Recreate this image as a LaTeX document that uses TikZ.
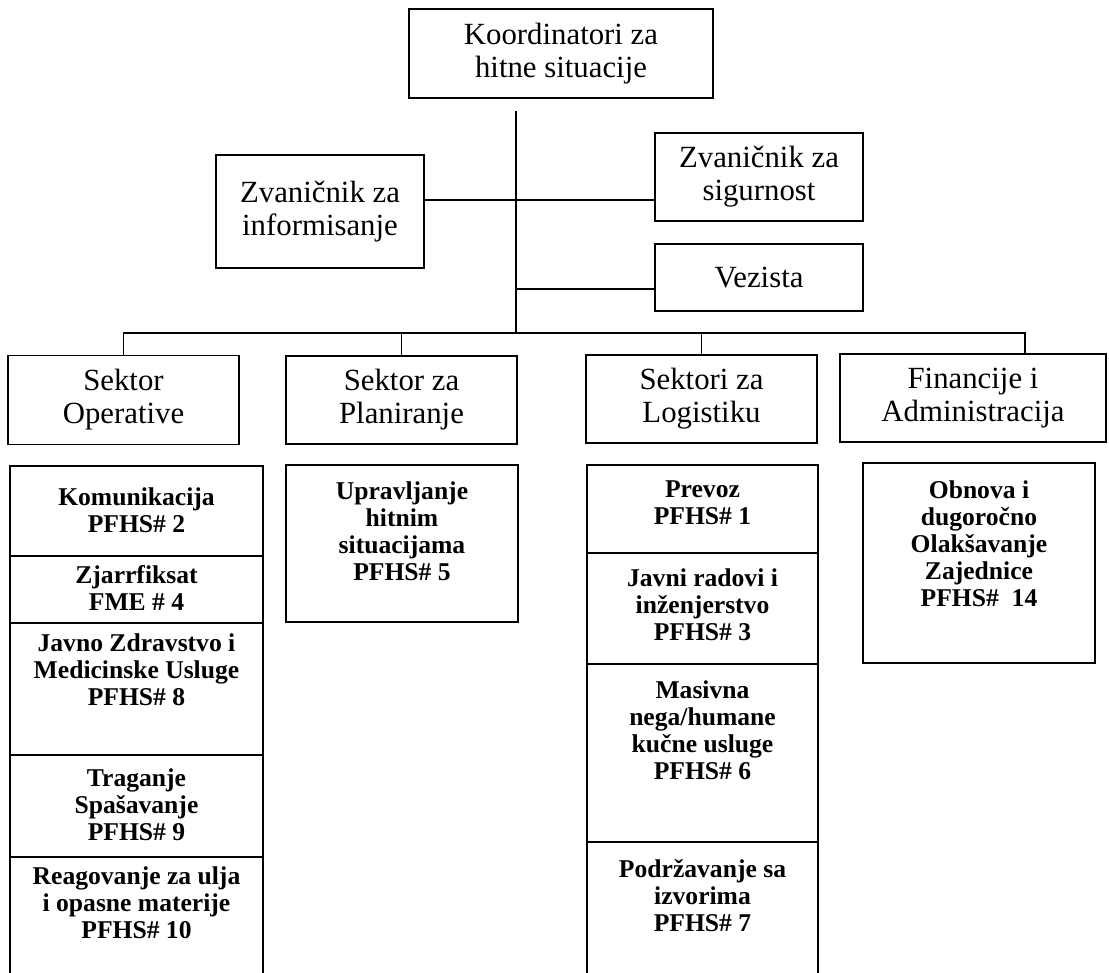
\documentclass[tikz,border=0pt]{standalone}
\usepackage{fontspec}
\setmainfont{Liberation Serif}
\usetikzlibrary{positioning}
\tikzset{
    unit/.style = {
        draw,
        line width=1.1pt,
        inner sep=0pt,
        outer sep=0pt,
        align=center,
        font=\fontsize{30.8}{33}\selectfont,
        },
    cell/.style = {
        draw,
        line width=1.1pt,
        inner sep=0pt,
        outer sep=0pt,
        anchor=north,
        },
    open cell/.style = {
        inner sep=0pt,
        outer sep=0pt,
        anchor=north,
        },
    item/.style = {
        inner sep=0pt,
        anchor=north,
        align=center,
        font=\fontsize{25.6}{27}\selectfont\bfseries,
        },
    link/.style = {
        line width=1.1pt,
        },
}

\begin{document}
\begin{tikzpicture}[x=1pt, y=-1pt]
            \useasboundingbox (0,0) rectangle (1109,973);

            % upper part
            \node[unit, minimum width=304, minimum height=89] (koord) at (561,53.5) {Koordinatori za\\hitne situacije};
            \node[unit, minimum width=208, minimum height=113] (info) at (320,211.5) {Zvaničnik za\\informisanje};
            \node[unit, minimum width=208, minimum height=88] (sigur) at (759,177) {Zvaničnik za\\sigurnost};
            \node[unit, minimum width=208, minimum height=67] (vez) at (759,277.5) {Vezista};

            % sectors
            \node[unit, minimum width=231, minimum height=89] (oper) at (123.5,400) {Sektor\\Operative};
            \node[unit, minimum width=231, minimum height=88] (plan) at (401.5,400) {Sektor za\\Planiranje};
            \node[unit, minimum width=231, minimum height=88] (logi) at (701.5,399) {Sektori za\\Logistiku};
            \node[unit, minimum width=266, minimum height=88] (fina) at (973,398) {Financije i\\Administracija};

            \coordinate (trunk) at (516,111);
            \coordinate (bar) at (516,333);
            \coordinate (infoy) at (516,200);
            \coordinate (vezy) at (516,289);
            \coordinate (findrop) at (1025,333);

            \draw[link] (trunk) -- (bar);
            \draw[link] (info.east |- infoy) -- (sigur.west |- infoy);
            \draw[link] (vezy) -- (vez.west |- vezy);
            \draw[link] (oper.north) |- (bar);
            \draw[link] (plan.north) |- (bar);
            \draw[link] (logi.north) |- (bar);
            \draw[link] (bar) -- (findrop) -- (findrop |- fina.north);

            % operative column
            \node[cell, minimum width=253, minimum height=90] (kom) at (136.5,466) {};
            \node[cell, minimum width=253, minimum height=67, below=0pt of kom] (zjar) {};
            \node[cell, minimum width=253, minimum height=132, below=0pt of zjar] (javno) {};
            \node[cell, minimum width=253, minimum height=102, below=0pt of javno] (trag) {};
            \node[open cell, minimum width=253, minimum height=116, below=0pt of trag] (reag) {};
            \draw[link] (reag.south west) |- (reag.north east) -- (reag.south east);

            \node[item, below=22pt of kom.north] (komtext) {Komunikacija\\PFHS\# 2};
            \node[item, below=9pt of zjar.north] (zjartext) {Zjarrfiksat\\FME \# 4};
            \node[item, below=11pt of javno.north] (javnotext) {Javno Zdravstvo i\\Medicinske Usluge\\PFHS\# 8};
            \node[item, below=14pt of trag.north] (tragtext) {Traganje\\Spašavanje\\PFHS\# 9};
            \node[item, below=10pt of reag.north] (reagtext) {Reagovanje za ulja\\i opasne materije\\PFHS\# 10};

            % planning column
            \node[cell, minimum width=232, minimum height=157] (uprav) at (402,465) {};
            \node[item, below=17pt of uprav.north] (upravtext) {Upravljanje\\hitnim\\situacijama\\PFHS\# 5};

            % logistics column
            \node[cell, minimum width=231, minimum height=88] (prev) at (702.5,465) {};
            \node[cell, minimum width=231, minimum height=111, below=0pt of prev] (radovi) {};
            \node[cell, minimum width=231, minimum height=178, below=0pt of radovi] (masiv) {};
            \node[open cell, minimum width=231, minimum height=131, below=0pt of masiv] (podrz) {};
            \draw[link] (podrz.south west) |- (podrz.north east) -- (podrz.south east);

            \node[item, below=16pt of prev.north] (prevtext) {Prevoz\\PFHS\# 1};
            \node[item, below=16pt of radovi.north] (radovitext) {Javni radovi i\\inženjerstvo\\PFHS\# 3};
            \node[item, below=17pt of masiv.north] (masivtext) {Masivna\\nega/humane\\kučne usluge\\PFHS\# 6};
            \node[item, below=17pt of podrz.north] (podrztext) {Podržavanje sa\\izvorima\\PFHS\# 7};

            % finance column
            \node[cell, minimum width=232, minimum height=200] (obn) at (979,463) {};
            \node[item, below=18pt of obn.north] (obntext) {Obnova i\\dugoročno\\Olakšavanje\\Zajednice\\PFHS\#\ \ 14};
        \end{tikzpicture}
\end{document}
